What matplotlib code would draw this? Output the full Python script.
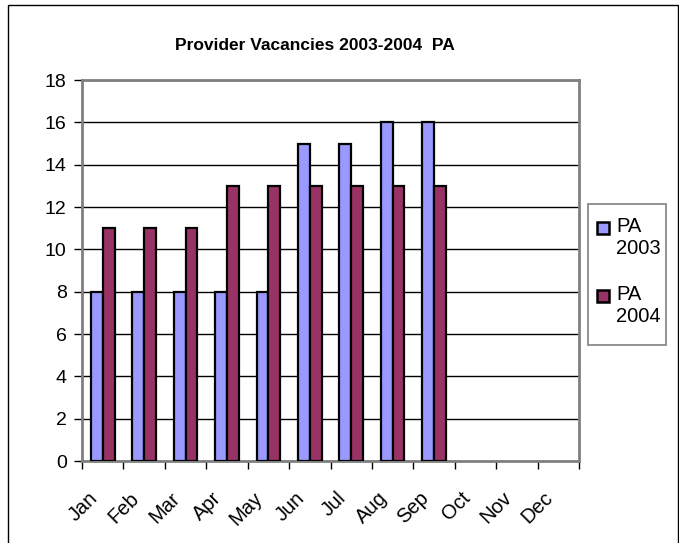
import numpy as np
import matplotlib.pyplot as plt
import matplotlib.transforms as mtransforms
from matplotlib.patches import Rectangle

plt.rcParams['font.family'] = ['Liberation Sans', 'DejaVu Sans']

months = ['Jan', 'Feb', 'Mar', 'Apr', 'May', 'Jun', 'Jul', 'Aug', 'Sep', 'Oct', 'Nov', 'Dec']
pa_2003 = [8, 8, 8, 8, 8, 15, 15, 16, 16]
pa_2004 = [11, 11, 11, 13, 13, 13, 13, 13, 13]
series_labels = ['PA\n2003', 'PA\n2004']
colors = ['#9999ff', '#993366']

W, H = 679, 543
fig = plt.figure(figsize=(W / 100, H / 100), dpi=100)

# plot area in pixels: left 82, right 579, top 80, bottom 461
ax = fig.add_axes([82 / W, 1 - 461 / H, (579 - 82) / W, (461 - 80) / H])

bw = 1 / 3.5  # excel gap width 150%
x1 = np.arange(len(pa_2003))
x2 = np.arange(len(pa_2004))
ax.bar(x1 - bw / 2, pa_2003, width=bw, color=colors[0], edgecolor='black', linewidth=1.6, zorder=3)
ax.bar(x2 + bw / 2, pa_2004, width=bw, color=colors[1], edgecolor='black', linewidth=1.6, zorder=3)

ax.set_xlim(-0.5, len(months) - 0.5)
ax.set_ylim(0, 18)
ax.set_yticks(range(0, 19, 2))
ax.yaxis.grid(True, color='black', linewidth=1, zorder=0)
ax.set_axisbelow(True)

# category ticks sit between months, labels at centers
ax.set_xticks(np.arange(len(months) + 1) - 0.5)
ax.set_xticklabels([])
ax.set_xticks(np.arange(len(months)), minor=True)
ax.set_xticklabels(months, minor=True, rotation=45, ha='right', va='top',
                   rotation_mode='anchor', fontsize=14.5)
ax.tick_params(axis='x', which='minor', length=0, pad=9)
ax.tick_params(axis='x', which='major', direction='out', length=6, width=1, color='black')
ax.tick_params(axis='y', direction='out', length=6, width=1, labelsize=14, pad=5)

# shift month labels down/left like the excel original
shift = mtransforms.ScaledTranslation(-0.15, -0.15, fig.dpi_scale_trans)
for lbl in ax.get_xticklabels(minor=True):
    lbl.set_transform(lbl.get_transform() + shift)

for s in ['top', 'right', 'left', 'bottom']:
    ax.spines[s].set_color('#808080')
    ax.spines[s].set_linewidth(2)

fig.text(315 / W, 1 - 46 / H, 'Provider Vacancies 2003-2004  PA', ha='center', va='center',
         fontsize=12.5, fontweight='bold')

# legend box drawn by hand so marker sits on the first line
fig.patches.append(Rectangle((588 / W, 1 - 345 / H), (666 - 588) / W, (345 - 204) / H,
                             transform=fig.transFigure, facecolor='white', edgecolor='#808080',
                             linewidth=1.2))
for i, (lab, c) in enumerate(zip(series_labels, colors)):
    y_top = 222 + i * 68
    fig.patches.append(Rectangle((597 / W, 1 - (y_top + 12) / H), 12 / W, 12 / H,
                                 transform=fig.transFigure, facecolor=c, edgecolor='black',
                                 linewidth=1.8))
    fig.text(616 / W, 1 - (y_top - 5) / H, lab, ha='left', va='top', fontsize=14.5,
             linespacing=1.22)

# outer chart border (bottom edge lies outside the picture)
fig.patches.append(Rectangle((8 / W, -5 / H), (W - 9) / W, (H) / H,
                             transform=fig.transFigure, facecolor='none', edgecolor='black',
                             linewidth=1))

fig.savefig('out.png', dpi=100)
